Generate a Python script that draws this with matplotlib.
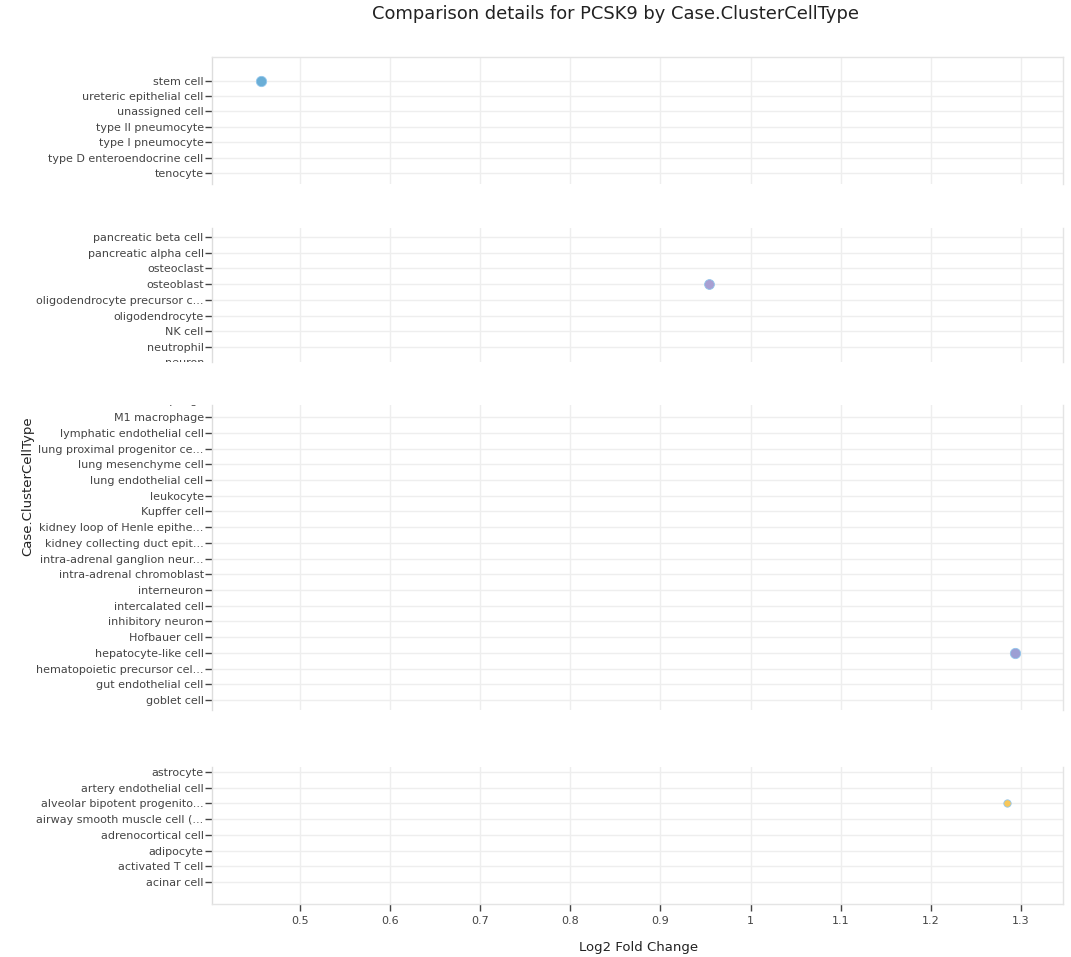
import matplotlib
matplotlib.use("Agg")
import matplotlib.pyplot as plt
from matplotlib.transforms import Bbox, TransformedBbox, blended_transform_factory

plt.rcParams['font.family'] = ['DejaVu Sans']

# categories of each facet, top to bottom
panel1 = ['stem cell', 'ureteric epithelial cell', 'unassigned cell', 'type II pneumocyte',
          'type I pneumocyte', 'type D enteroendocrine cell', 'tenocyte']
panel2 = ['pancreatic beta cell', 'pancreatic alpha cell', 'osteoclast', 'osteoblast',
          'oligodendrocyte precursor c...', 'oligodendrocyte', 'NK cell', 'neutrophil', 'neuron']
panel3 = ['M2 macrophage', 'M1 macrophage', 'lymphatic endothelial cell', 'lung proximal progenitor ce...',
          'lung mesenchyme cell', 'lung endothelial cell', 'leukocyte', 'Kupffer cell',
          'kidney loop of Henle epithe...', 'kidney collecting duct epit...', 'intra-adrenal ganglion neur...',
          'intra-adrenal chromoblast', 'interneuron', 'intercalated cell', 'inhibitory neuron',
          'Hofbauer cell', 'hepatocyte-like cell', 'hematopoietic precursor cel...',
          'gut endothelial cell', 'goblet cell']
panel4 = ['astrocyte', 'artery endothelial cell', 'alveolar bipotent progenito...',
          'airway smooth muscle cell (...', 'adrenocortical cell', 'adipocyte',
          'activated T cell', 'acinar cell']

# measured points
point_cells = ['stem cell', 'osteoblast', 'hepatocyte-like cell', 'alveolar bipotent progenito...']
point_fc = [0.456, 0.954, 1.294, 1.285]
point_colors = ['#6aaed6', '#a89fd2', '#9c9fd4', '#f8c75a']
point_sizes = [55, 50, 55, 28]

x_ticks = [0.5, 0.6, 0.7, 0.8, 0.9, 1, 1.1, 1.2, 1.3]
x_ticklabels = ['0.5', '0.6', '0.7', '0.8', '0.9', '1', '1.1', '1.2', '1.3']

W, H = 1071, 957
fig = plt.figure(figsize=(W / 100, H / 100), dpi=100)

left_px, right_px = 212, 1063
# (labels, top px, bottom px, y-range top, y-range bottom)
panels = [
    (panel1, 57, 184, -1.53, 6.7),
    (panel2, 228, 362, -0.57, 7.95),
    (panel3, 405, 710, 0.23, 19.64),
    (panel4, 767, 904, -0.32, 8.4),
]

txt = '#444444'
for k, (labels, top, bot, ytop, ybot) in enumerate(panels):
    ax = fig.add_axes([left_px / W, 1 - bot / H, (right_px - left_px) / W, (bot - top) / H])
    pos = list(range(len(labels)))
    ax.set_xlim(0.402, 1.347)
    ax.set_ylim(ybot, ytop)
    vis = [i for i in pos if ytop <= i <= ybot]
    ax.set_yticks(vis)
    ax.set_yticklabels([labels[i] for i in vis])
    ax.set_xticks(x_ticks)
    ax.grid(True, color='#eeeeee', linewidth=1)
    ax.set_axisbelow(True)
    for s in ax.spines.values():
        s.set_color('#e4e4e4')
        s.set_linewidth(1)
    ax.spines['top'].set_visible(k == 0)
    ax.spines['bottom'].set_visible(k == 3)
    ax.spines['left'].set_color('#dddddd')
    ax.tick_params(axis='y', length=5, width=1, color=txt, labelcolor=txt, labelsize=8, pad=1)
    if k == 3:
        ax.set_xticklabels(x_ticklabels)
        ax.tick_params(axis='x', length=5, width=1, color=txt, labelcolor=txt,
                       labelsize=8, pad=4)
    else:
        ax.tick_params(axis='x', length=0, labelbottom=False)

    # labels cut by the panel edge
    clip = TransformedBbox(Bbox([[0, 1 - bot / H], [left_px / W, 1 - top / H]]), fig.transFigure)
    trans = blended_transform_factory(ax.transAxes, ax.transData)
    for i in pos:
        if i not in vis:
            t = ax.text(-0.0094, i, labels[i], transform=trans, ha='right', va='center',
                        fontsize=8, color=txt, clip_on=True)
            t.set_clip_box(clip)

    for c, v, col, sz in zip(point_cells, point_fc, point_colors, point_sizes):
        if c in labels:
            ax.scatter([v], [labels.index(c)], s=sz, color=col, edgecolors='#92c6ec',
                       linewidths=0.6, zorder=3, clip_on=False)

fig.text(616 / W, 1 - 14 / H, 'Comparison details for PCSK9 by Case.ClusterCellType',
         ha='center', va='center', fontsize=12.85, color='#222222')
fig.text(639 / W, 1 - 948 / H, 'Log2 Fold Change', ha='center', va='center',
         fontsize=9.5, color='#222222')
fig.text(28 / W, 1 - 486 / H, 'Case.ClusterCellType', ha='center', va='center',
         rotation=90, fontsize=9.5, color='#222222')

fig.savefig('out.png', dpi=100)
